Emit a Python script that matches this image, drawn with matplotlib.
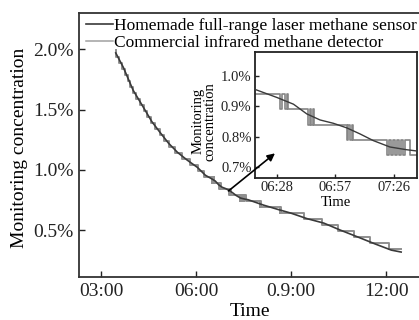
import matplotlib
matplotlib.use('Agg')
import matplotlib.pyplot as plt

plt.rcParams['font.family'] = ['Liberation Serif', 'DejaVu Serif']

# homemade laser sensor readings (time in hours, concentration in %)
laser_t = [3.46, 3.70, 4.01, 4.33, 4.60, 4.86, 5.13, 5.41, 5.72, 6.04, 6.29,
           6.467, 6.603, 6.713, 6.823, 6.933, 7.043, 7.153, 7.263, 7.400, 7.537,
           7.638, 8.13, 8.60, 9.00, 9.50, 10.03, 10.55, 11.11, 11.65, 12.16, 12.47]
laser_v = [1.97, 1.85, 1.66, 1.52, 1.40, 1.31, 1.22, 1.145, 1.08, 1.02, 0.955,
           0.929, 0.907, 0.875, 0.855, 0.844, 0.829, 0.809, 0.787, 0.766, 0.757,
           0.752, 0.707, 0.67, 0.64, 0.595, 0.558, 0.50, 0.442, 0.385, 0.334, 0.318]

# commercial infrared detector: time of each reading change and new reading
ir_t = [3.46, 3.47, 3.57, 3.67, 3.757, 3.839, 3.92, 4.002, 4.113, 4.227, 4.341,
        4.454, 4.566, 4.701, 4.846, 4.995, 5.149, 5.335, 5.553, 5.80, 6.059, 6.252,
        6.488, 6.508, 6.530, 6.548, 6.560,
        6.727, 6.740, 6.752, 6.763, 6.775,
        7.043, 7.057, 7.070, 7.083, 7.098,
        7.373, 7.390, 7.407, 7.423, 7.440, 7.457, 7.473, 7.490, 7.507, 7.525, 7.565,
        8.02, 8.03, 8.045, 8.65, 8.66, 8.675,
        9.40, 9.98, 10.47, 10.97, 11.50, 12.10, 12.47]
ir_v = [1.99, 1.94, 1.89, 1.84, 1.79, 1.74, 1.69, 1.64, 1.59, 1.54, 1.49,
        1.44, 1.39, 1.34, 1.29, 1.24, 1.19, 1.14, 1.09, 1.04, 0.99, 0.94,
        0.89, 0.94, 0.89, 0.94, 0.89,
        0.84, 0.89, 0.84, 0.89, 0.84,
        0.79, 0.84, 0.79, 0.84, 0.79,
        0.74, 0.79, 0.74, 0.79, 0.74, 0.79, 0.74, 0.79, 0.74, 0.79, 0.74,
        0.69, 0.74, 0.69, 0.64, 0.69, 0.64,
        0.59, 0.54, 0.49, 0.44, 0.39, 0.34, 0.34]

main_xticks = [3, 6, 9, 12]
main_xlabels = ['03:00', '06:00', '0.9:00', '12:00']
main_yticks = [0.5, 1.0, 1.5, 2.0]
inset_xticks = [6 + 28 / 60, 6 + 57 / 60, 7 + 26 / 60]
inset_xlabels = ['06:28', '06:57', '07:26']
inset_yticks = [0.7, 0.8, 0.9, 1.0]

dark = '#3a3a3a'
light = '#8f8f8f'

fig = plt.figure(figsize=(4.19, 3.20), dpi=100)
ax = fig.add_axes([0.1885, 0.134, 0.815, 0.825])

ax.step(ir_t, ir_v, where='post', color=light, lw=1.4,
        label='Commercial infrared methane detector', zorder=2)
ax.plot(laser_t, laser_v, color=dark, lw=1.2,
        label='Homemade full-range laser methane sensor', zorder=3)

ax.set_xlim(2.30, 13.08)
ax.set_ylim(0.11, 2.30)
ax.set_xticks(main_xticks)
ax.set_xticklabels(main_xlabels)
ax.set_yticks(main_yticks)
ax.set_yticklabels(['%.1f%%' % v for v in main_yticks])
ax.tick_params(direction='in', length=4, width=1.0, labelsize=14, pad=4, colors='#222')
for s in ax.spines.values():
    s.set_linewidth(1.3)
    s.set_color('#333')
ax.set_xlabel('Time', fontsize=14, labelpad=2.5)
ax.set_ylabel('Monitoring concentration', fontsize=14)
ax.yaxis.set_label_coords(-0.15, 0.49)

handles, labels = ax.get_legend_handles_labels()
leg = ax.legend(handles[::-1], labels[::-1], loc='upper left', bbox_to_anchor=(0.015, 0.99),
                frameon=False, fontsize=12.5, handlelength=1.55, handletextpad=0.05,
                labelspacing=0.08, borderaxespad=0.0, borderpad=0.1)
leg.get_lines()[1].set_color('#a0a0a0')
leg.get_lines()[1].set_linewidth(1.1)

# inset zoom
axins = fig.add_axes([0.6086, 0.444, 0.3866, 0.3935])
axins.step(ir_t, ir_v, where='post', color='#858585', lw=1.2, zorder=2)
axins.plot(laser_t, laser_v, color=dark, lw=1.0, zorder=3)
axins.set_xlim(6.285, 7.624)
axins.set_ylim(0.664, 1.079)
axins.set_xticks(inset_xticks)
axins.set_xticklabels(inset_xlabels)
axins.set_yticks(inset_yticks)
axins.set_yticklabels(['%.1f%%' % v for v in inset_yticks])
axins.tick_params(direction='in', length=3, width=1.0, labelsize=10.5, pad=2.5, colors='#222')
for s in axins.spines.values():
    s.set_linewidth(1.3)
    s.set_color('#222')
axins.set_xlabel('Time', fontsize=10.5, labelpad=1.5)
axins.set_ylabel('Monitoring\nconcentration', fontsize=10.5, linespacing=0.9)
axins.yaxis.set_label_coords(-0.235, 0.45)

axins.annotate('', xy=(6.45, 0.745), xycoords='data',
               xytext=(7.02, 0.825), textcoords=ax.transData,
               arrowprops=dict(arrowstyle='-|>', color='black', lw=1.2,
                               mutation_scale=11, shrinkA=0, shrinkB=0),
               annotation_clip=False)

fig.savefig('out.png', dpi=100)
